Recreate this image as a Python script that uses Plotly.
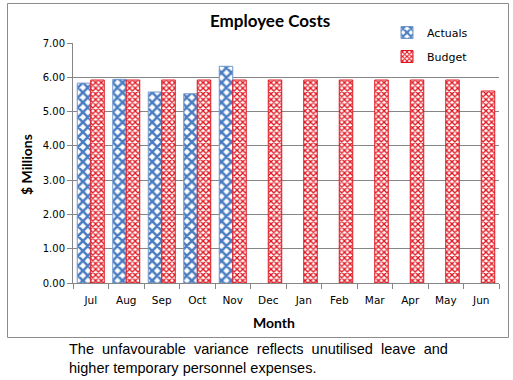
import plotly.graph_objects as go

months = ["Jul", "Aug", "Sep", "Oct", "Nov", "Dec", "Jan", "Feb", "Mar", "Apr", "May", "Jun"]
actuals = [5.83, 5.94, 5.57, 5.52, 6.32, None, None, None, None, None, None, None]
budget = [5.92, 5.92, 5.92, 5.92, 5.92, 5.92, 5.92, 5.92, 5.92, 5.92, 5.92, 5.60]
yticks = [0, 1, 2, 3, 4, 5, 6, 7]

W, H = 513, 380
L, R, T, B = 73, 14, 43, 97
PW, PH = W - L - R, H - T - B

def px(x):
    return (x - L) / PW

def py(y):
    return (H - B - y) / PH

fig = go.Figure()
fig.add_trace(go.Bar(
    x=months, y=actuals, name="Actuals",
    legendgroup="a",
    marker=dict(color="white", line=dict(color="#6F97CC", width=1),
                pattern=dict(shape="x", fgcolor="#4A7CC2", bgcolor="white",
                             size=7, solidity=0.6, fillmode="replace")),
))
fig.add_trace(go.Bar(
    x=months, y=budget, name="Budget",
    legendgroup="b",
    marker=dict(color="white", line=dict(color="#E0141E", width=1),
                pattern=dict(shape="x", fgcolor="#E0141E", bgcolor="white",
                             size=4, solidity=0.55, fillmode="replace")),
))

font_body = "DejaVu Sans"
font_bold = "Lato"

fig.update_layout(
    width=W, height=H,
    margin=dict(l=L, r=R, t=T, b=B, pad=0),
    paper_bgcolor="white", plot_bgcolor="white",
    barmode="group", bargap=0.24, bargroupgap=0.0,
    showlegend=True,
    legend=dict(x=px(387), y=py(18), xanchor="left", yanchor="top",
                bgcolor="rgba(0,0,0,0)", font=dict(family=font_body, size=11, color="black"),
                traceorder="grouped", tracegroupgap=5, itemwidth=30),
    font=dict(family=font_body, size=10, color="black"),
)
fig.update_xaxes(
    type="category", tickson="boundaries", ticks="outside", ticklen=5,
    tickcolor="#868686", showline=True, linecolor="#868686", linewidth=1,
    showgrid=False, tickfont=dict(family=font_body, size=10.5, color="black"),
    ticklabelstandoff=7,
    fixedrange=True,
)
fig.update_yaxes(
    range=[0, 7], tickvals=yticks, tickformat=".2f", ticks="outside", ticklen=5,
    tickcolor="#868686", showline=True, linecolor="#868686", linewidth=1,
    showgrid=True, gridcolor="#868686", gridwidth=1, zeroline=False,
    tickfont=dict(family=font_body, size=10, color="black"),
    fixedrange=True,
)

annotations = [
    dict(text="<b>Employee Costs</b>", x=px(270), y=py(20.5), xref="paper", yref="paper",
         xanchor="center", yanchor="middle", showarrow=False,
         font=dict(family=font_bold, size=17, color="black")),
    dict(text="<b>Month</b>", x=px(274), y=py(322), xref="paper", yref="paper",
         xanchor="center", yanchor="middle", showarrow=False,
         font=dict(family=font_bold, size=14, color="black")),
    dict(text="<b>$ Millions</b>", x=px(26), y=py(165), xref="paper", yref="paper",
         xanchor="center", yanchor="middle", showarrow=False, textangle=-90,
         font=dict(family=font_bold, size=14, color="black")),
    dict(text="The\u00a0 unfavourable\u00a0 variance\u00a0 reflects\u00a0 unutilised\u00a0 leave\u00a0 and",
         x=px(67), y=py(349), xref="paper", yref="paper",
         xanchor="left", yanchor="middle", showarrow=False,
         font=dict(family="Liberation Sans", size=14.5, color="black")),
    dict(text="higher temporary personnel expenses.",
         x=px(67), y=py(367.5), xref="paper", yref="paper",
         xanchor="left", yanchor="middle", showarrow=False,
         font=dict(family="Liberation Sans", size=14.5, color="black")),
]
fig.update_layout(annotations=annotations)

fig.add_shape(type="rect", xref="paper", yref="paper",
              x0=px(7.5), x1=px(508.5), y0=py(3.5), y1=py(337.5),
              line=dict(color="#8C8C8C", width=1), fillcolor="rgba(0,0,0,0)", layer="below")

fig.write_html("out.html",
               config={"displayModeBar": False},
               post_script="document.body.style.margin='0';document.body.style.padding='0';document.body.style.overflow='hidden';")
